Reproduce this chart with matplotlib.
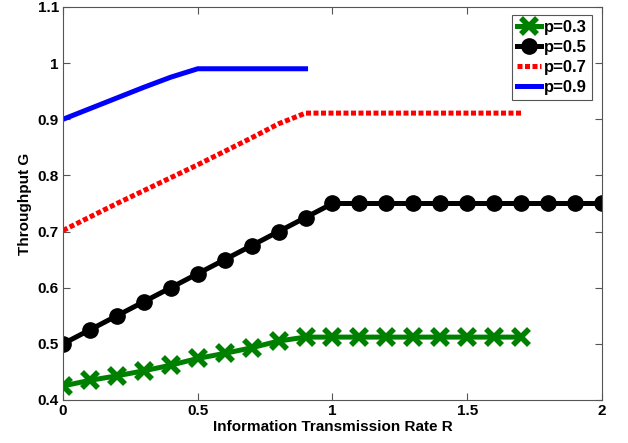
import numpy as np
import matplotlib
matplotlib.use('Agg')
import matplotlib.pyplot as plt

plt.rcParams['font.family'] = ['Liberation Sans', 'DejaVu Sans']
plt.rcParams['font.weight'] = 'bold'

# data
R_03 = np.round(np.arange(0, 1.75, 0.1), 2)
G_03 = [0.425, 0.435, 0.443, 0.452, 0.462, 0.474, 0.483, 0.493, 0.505, 0.512,
        0.512, 0.512, 0.512, 0.512, 0.512, 0.512, 0.512, 0.512]

R_05 = np.round(np.arange(0, 2.05, 0.1), 2)
G_05 = [0.5, 0.525, 0.55, 0.575, 0.6, 0.625, 0.65, 0.675, 0.7, 0.725,
        0.75, 0.75, 0.75, 0.75, 0.75, 0.75, 0.75, 0.75, 0.75, 0.75, 0.75]

R_07 = np.round(np.arange(0, 1.75, 0.1), 2)
G_07 = [0.702, 0.726, 0.75, 0.773, 0.796, 0.819, 0.843, 0.867, 0.892, 0.911,
        0.911, 0.911, 0.911, 0.911, 0.911, 0.911, 0.911, 0.911]

R_09 = np.round(np.arange(0, 0.95, 0.1), 2)
G_09 = [0.9, 0.919, 0.938, 0.957, 0.975, 0.99, 0.99, 0.99, 0.99, 0.99]

fig = plt.figure(figsize=(6.28, 4.43), dpi=100)
ax = fig.add_axes([0.1003, 0.0971, 0.8583, 0.8871])

ax.plot(R_03, G_03, color='#008000', lw=3.6, marker='x', ms=12, mew=4, label='p=0.3')
ax.plot(R_05, G_05, color='black', lw=3.6, marker='o', ms=11, label='p=0.5')
ax.plot(R_07, G_07, color='red', lw=3.6, ls=(0, (1, 0.5)), label='p=0.7')
ax.plot(R_09, G_09, color='blue', lw=3.6, label='p=0.9')

ax.set_xlim(0, 2)
ax.set_ylim(0.4, 1.1)
ax.set_xticks([0, 0.5, 1, 1.5, 2])
ax.set_xticklabels(['0', '0.5', '1', '1.5', '2'])
ax.set_yticks([0.4, 0.5, 0.6, 0.7, 0.8, 0.9, 1.0, 1.1])
ax.set_yticklabels(['0.4', '0.5', '0.6', '0.7', '0.8', '0.9', '1', '1.1'])
ax.tick_params(direction='in', top=True, right=True, labelsize=11, length=5,
               color='#555555', pad=3)
for s in ax.spines.values():
    s.set_color('#555555')

ax.set_xlabel('Information Transmission Rate R', fontsize=11, fontweight='bold', labelpad=1)
ax.set_ylabel('Throughput G', fontsize=11, fontweight='bold', labelpad=4)

leg = ax.legend(loc='upper right', fontsize=12, handlelength=1.4, handletextpad=0.2,
                borderpad=0.3, labelspacing=0.3, fancybox=False, framealpha=1,
                borderaxespad=0, bbox_to_anchor=(0.981, 0.98))
leg.get_frame().set_edgecolor('#555555')
leg.get_frame().set_linewidth(0.8)

plt.savefig('out.png', dpi=100)
